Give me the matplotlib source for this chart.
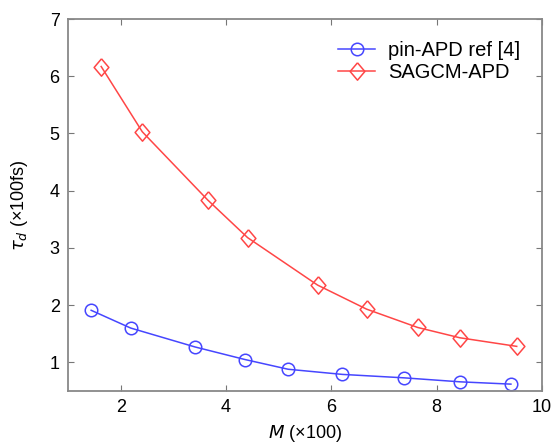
import matplotlib.pyplot as plt

plt.rcParams['font.family'] = ['Liberation Sans', 'DejaVu Sans']

# pin-APD ref [4]
pin_m = [1.44, 2.19, 3.41, 4.36, 5.18, 6.21, 7.38, 8.45, 9.41]
pin_td = [1.91, 1.60, 1.27, 1.05, 0.88, 0.79, 0.73, 0.66, 0.62]

# SAGCM-APD
sag_m = [1.63, 2.41, 3.65, 4.41, 5.74, 6.67, 7.64, 8.44, 9.52]
sag_td = [6.17, 5.03, 3.84, 3.18, 2.35, 1.93, 1.61, 1.43, 1.28]

diamond = [(0, 1), (0.85, 0), (0, -1), (-0.85, 0), (0, 1)]

fig = plt.figure(figsize=(5.55, 4.47), dpi=100)
ax = fig.add_axes([68 / 555, 56 / 447, 474 / 555, 372 / 447])

ax.plot(pin_m, pin_td, color='#4646ff', marker='o', markersize=9, markerfacecolor='none',
        markeredgewidth=1.1, linewidth=1.1, label='pin-APD ref [4]')
ax.plot(sag_m, sag_td, color='#ff4646', marker=diamond, markersize=12.5, markerfacecolor='none',
        markeredgewidth=1.1, linewidth=1.1, label='SAGCM-APD')

ax.set_xlim(1, 10)
ax.set_ylim(0.5, 7)
ax.set_xticks([2, 4, 6, 8, 10])
ax.set_yticks([1, 2, 3, 4, 5, 6, 7])
ax.tick_params(direction='in', top=True, right=True, labelsize=13, length=4,
               color='#777777', pad=6)
for s in ax.spines.values():
    s.set_color('#888888')
    s.set_linewidth(1.3)

ax.set_xlabel(r'$M$ (×100)', fontsize=13, labelpad=5)
ax.set_ylabel(r'$\tau_d$ (×100fs)', fontsize=13, labelpad=14)

ax.legend(loc='upper right', frameon=False, fontsize=14.5, handlelength=1.8,
          borderaxespad=0.7, labelspacing=0.15, handletextpad=0.65)

fig.savefig('out.png', dpi=100)
